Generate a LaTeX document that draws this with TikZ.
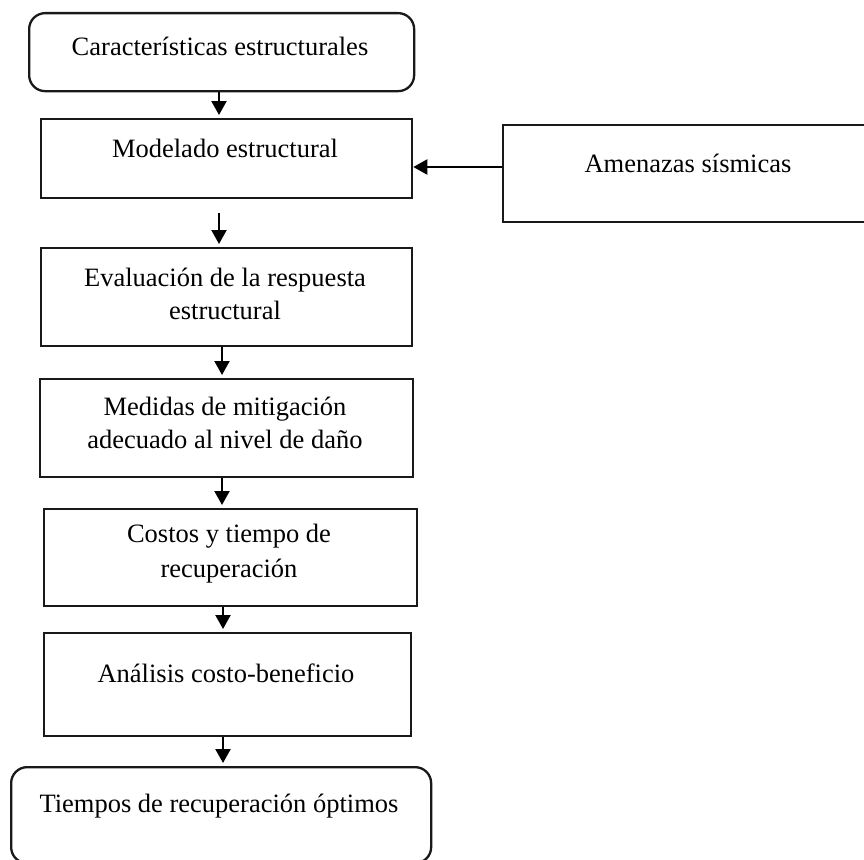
\documentclass[tikz,border=0pt]{standalone}
\usepackage{fontspec}
\setmainfont{Liberation Serif}
\usetikzlibrary{arrows.meta}
\begin{document}
\begin{tikzpicture}[x=1pt,y=-1pt,
  box/.style={draw=black!90, line width=2.3pt, fill=none, inner sep=0pt, anchor=north west},
  rbox/.style={box, rounded corners=16pt},
  lbl/.style={inner sep=0pt, align=center, font=\fontsize{26.5}{33}\selectfont},
  arr/.style={line width=2.2pt, -{Triangle[width=15pt,length=14pt]}, shorten >=3pt}]
\useasboundingbox (0,0) rectangle (864,859);
\clip (0,0) rectangle (864,859);
% boxes
\node[rbox, minimum width=385pt, minimum height=78pt] (b1) at (28,12) {};
\node[box, minimum width=371pt, minimum height=79pt] (b2) at (40,118) {};
\node[box, minimum width=373pt, minimum height=97pt] (b3) at (502,124) {};
\node[box, minimum width=371pt, minimum height=98pt] (b4) at (40,247) {};
\node[box, minimum width=373pt, minimum height=98pt] (b5) at (39,378) {};
\node[box, minimum width=373pt, minimum height=97pt] (b6) at (43,508) {};
\node[box, minimum width=367pt, minimum height=103pt] (b7) at (43,632) {};
\node[rbox, minimum width=420pt, minimum height=96pt] (b8) at (10,766) {};
% labels
\node[lbl] (t1) at (220,46) {Características estructurales};
\node[lbl] (t2) at (225,148) {Modelado estructural};
\node[lbl] (t3) at (688,163) {Amenazas sísmicas};
\node[lbl] (t4) at (225,294) {Evaluación de la respuesta\\estructural};
\node[lbl] (t5) at (225,423) {Medidas de mitigación\\adecuado al nivel de daño};
\node[lbl] (t6) at (229,554) {Costos y tiempo de\\[2pt]recuperación};
\node[lbl] (t7) at (226,673) {Análisis costo-beneficio};
\node[lbl] (t8) at (219,806) {Tiempos de recuperación óptimos};
% connector guides
\coordinate (xa) at (219,0);
\coordinate (xb) at (222,0);
\coordinate (xc) at (223,0);
\coordinate (ya) at (0,167);
\coordinate (ys) at (0,213);
% connectors
\draw[arr] (b1.south -| xa) -- (b2.north -| xa);
\draw[arr] (ys -| xa) -- (b4.north -| xa);
\draw[arr] (b4.south -| xb) -- (b5.north -| xb);
\draw[arr] (b5.south -| xb) -- (b6.north -| xb);
\draw[arr] (b6.south -| xc) -- (b7.north -| xc);
\draw[arr] (b7.south -| xc) -- (b8.north -| xc);
\draw[arr, shorten >=0pt] (b3.west |- ya) -- (b2.east |- ya);
\end{tikzpicture}
\end{document}
